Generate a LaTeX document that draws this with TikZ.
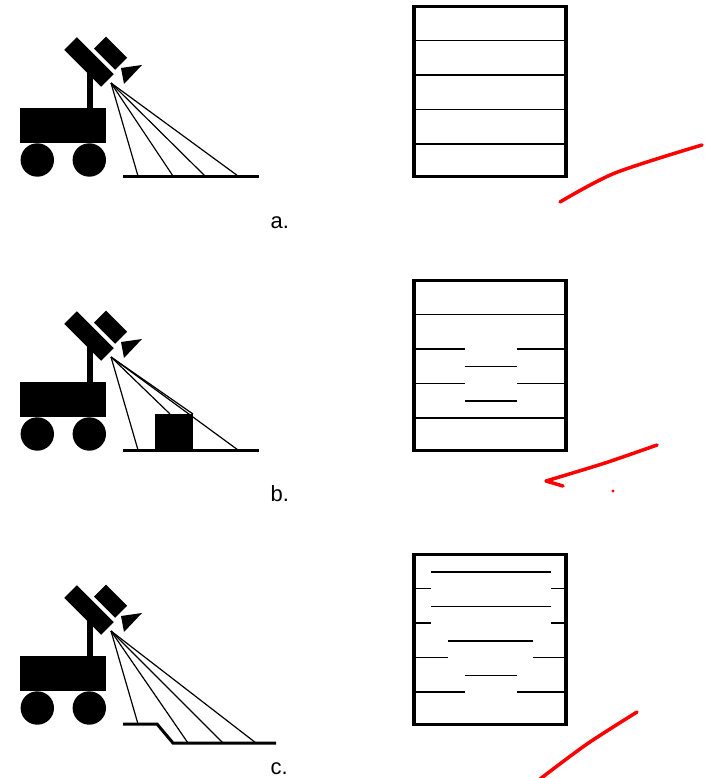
\documentclass[tikz,border=0pt]{standalone}
\usepackage{fontspec}
\setmainfont{Liberation Sans}

% rover with mast, tilted camera and laser
\newcommand{\rover}{%
  \fill (20,108) rectangle (106,143);
  \fill (87,68) rectangle (93,109);
  \fill (37.3,160) circle (16.7);
  \fill (89.3,160) circle (16.7);
  \begin{scope}[shift={(89,62)},rotate=-45]
    \fill (-26,-9) rectangle (26,9);
    \fill (-6,-13) rectangle (24,-30);
  \end{scope}
  \fill (121,68) -- (142,65) -- (124,84) -- cycle;
  \coordinate (eye) at (111,83);
}

\begin{document}
\begin{tikzpicture}[x=1pt,y=-1pt,
    ground/.style={line width=3pt},
    ray/.style={line width=1.2pt},
    frame/.style={line width=3.6pt},
    scan/.style={line width=1.6pt},
    note/.style={red,line width=3.5pt,line cap=round,line join=round},
    every node/.style={font=\fontsize{22}{24}\selectfont,anchor=base west}]

\useasboundingbox (0,0) rectangle (712,778);

% a. flat ground
\begin{scope}
  \rover
  \draw[ground] (123,176) -- (259,176);
  \foreach \x in {138,173,205,238}
    \draw[ray] (eye) -- (\x,176);
  \node (labela) at (267,228) {a.};
\end{scope}
\begin{scope}[shift={(414,6.5)}]
  \draw[frame] (0,0) rectangle (152,170);
  \foreach \y in {34,68.5,103,137.5}
    \draw[scan] (0,\y) -- (152,\y);
\end{scope}

% b. block on the ground
\begin{scope}[shift={(0,274)}]
  \rover
  \draw[ground] (123,176) -- (259,176);
  \fill (155,140) rectangle (193,176);
  \foreach \p in {(138,176),(170,140),(193,140),(238,176)}
    \draw[ray] (eye) -- \p;
  \node (labelb) at (267,227) {b.};
\end{scope}
\begin{scope}[shift={(414,280.5)}]
  \draw[frame] (0,0) rectangle (152,170);
  \foreach \y in {34,137.5}
    \draw[scan] (0,\y) -- (152,\y);
  \foreach \y/\a/\b in {68.5/51/103,103/51/103}
    \draw[scan] (0,\y) -- (\a,\y) (\b,\y) -- (152,\y) (\a,\y+17.5) -- (\b,\y+17.5);
\end{scope}

% c. step down in the ground
\begin{scope}[shift={(0,548)}]
  \rover
  \draw[ground] (123,176) -- (157,176) -- (173,195) -- (276,195);
  \foreach \p in {(138,176),(188,195),(223,195),(256,195)}
    \draw[ray] (eye) -- \p;
  \node (labelc) at (267,226) {c.};
\end{scope}
\begin{scope}[shift={(414,554.5)}]
  \draw[frame] (0,0) rectangle (152,170);
  \foreach \y/\a/\b in {34/17/137,68.5/17/137,103/34/119,137.5/51/103}
    \draw[scan] (0,\y) -- (\a,\y) (\b,\y) -- (152,\y) (\a,\y-16.5) -- (\b,\y-16.5);
\end{scope}

% red pen strokes
\draw[note] plot[smooth] coordinates {(560,202) (615,173) (702,145)};
\draw[note] plot[smooth] coordinates {(657,445) (605,463) (546,481)} -- (563,486);
\fill[red] (613,491) circle (1.6);
\draw[note] plot[smooth] coordinates {(637,712) (587,744) (540,779)};
\end{tikzpicture}
\end{document}
